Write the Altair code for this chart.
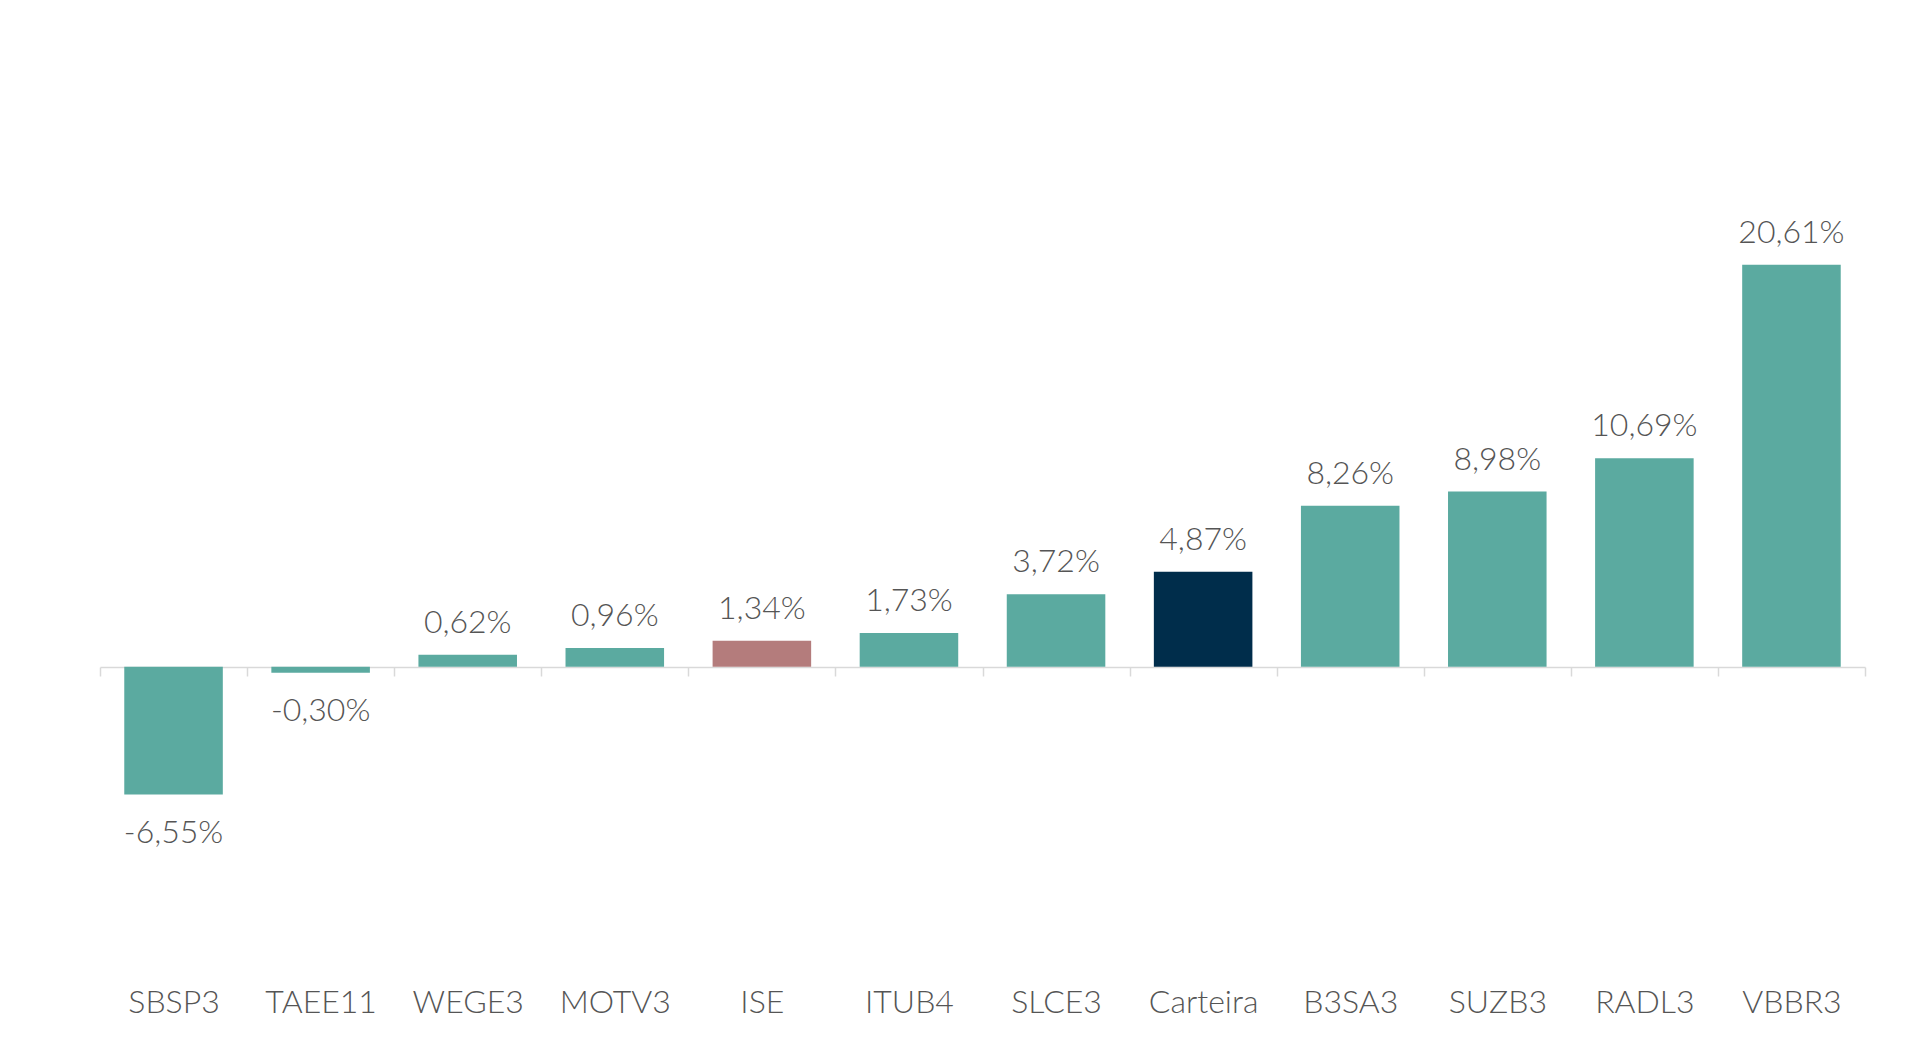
import altair as alt
import pandas as pd

tickers = ["SBSP3", "TAEE11", "WEGE3", "MOTV3", "ISE", "ITUB4", "SLCE3",
           "Carteira", "B3SA3", "SUZB3", "RADL3", "VBBR3"]
returns = [-6.55, -0.30, 0.62, 0.96, 1.34, 1.73, 3.72, 4.87, 8.26, 8.98, 10.69, 20.61]
bar_colors = ["#5BAAA0", "#5BAAA0", "#5BAAA0", "#5BAAA0", "#B47C7C", "#5BAAA0",
              "#5BAAA0", "#002D4B", "#5BAAA0", "#5BAAA0", "#5BAAA0", "#5BAAA0"]
labels = [f"{v:.2f}".replace(".", ",") + "%" for v in returns]

df = pd.DataFrame({"ticker": tickers, "ret": returns, "color": bar_colors, "label": labels})

FONT = "Lato"
TXT = "#555555"

x = alt.X(
    "ticker:N", sort=None,
    scale=alt.Scale(paddingInner=0, paddingOuter=0),
    axis=alt.Axis(
        title=None, orient="bottom", offset=-312, labelAngle=0,
        tickBand="extent", tickSize=9, tickColor="#D9D9D9", tickWidth=1.5,
        domainColor="#D9D9D9", domainWidth=1.5,
        labelFont=FONT, labelFontWeight=300, labelFontSize=32, labelColor=TXT,
        labelPadding=311, labelOverlap=False, grid=False,
    ),
)
y = alt.Y("ret:Q", scale=alt.Scale(domain=[-16, 25], nice=False, zero=False), axis=None)

base = alt.Chart(df)

bars = base.mark_bar(width=alt.RelativeBandSize(0.67)).encode(
    x=x, y=y, y2=alt.datum(0), color=alt.Color("color:N", scale=None))

pos_text = base.transform_filter("datum.ret >= 0").mark_text(
    font=FONT, fontWeight=300, fontSize=32, color=TXT, baseline="alphabetic", dy=-22
).encode(x=x, y=y, text="label:N")

neg_text = base.transform_filter("datum.ret < 0").mark_text(
    font=FONT, fontWeight=300, fontSize=32, color=TXT, baseline="alphabetic", dy=48
).encode(x=x, y=y, text="label:N")

chart = alt.layer(bars, pos_text, neg_text).properties(
    width=1765, height=800,
    autosize=alt.AutoSizeParams(type="none"),
    padding={"left": 92, "top": 171, "right": 47, "bottom": 60},
).configure_view(stroke=None)

chart.save("out.html", embed_options={"renderer": "svg", "actions": False})
